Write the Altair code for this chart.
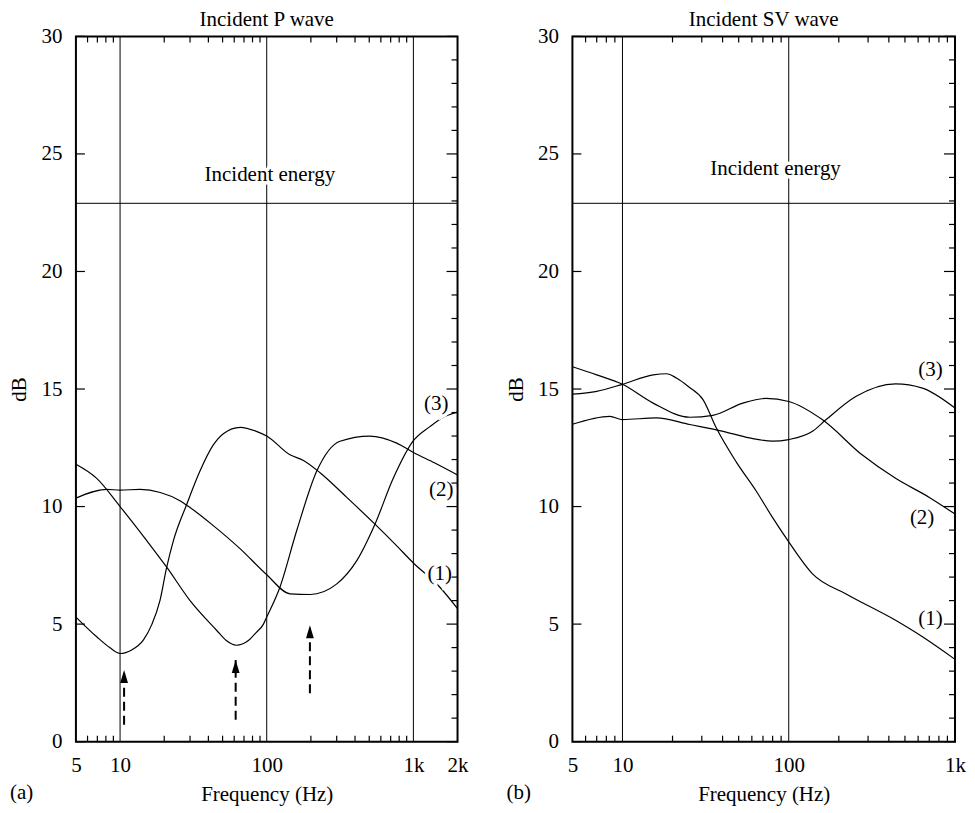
import altair as alt
import pandas as pd

FONT = "Liberation Serif"
FS = 21

# ---------------- Panel (a): Incident P wave ----------------
p1_f = [5, 6.93, 8.5, 10, 12, 14.4, 16.5, 18.7, 20.8, 23.1, 28.5, 35, 43, 50.6, 66, 85, 100, 144, 178, 231, 350, 547, 750, 1000, 1500, 2000]
p1_db = [5.3, 4.46, 4.0, 3.75, 3.9, 4.32, 5.0, 6.0, 7.42, 8.55, 10.1, 11.5, 12.6, 13.1, 13.37, 13.2, 13.0, 12.2, 11.96, 11.44, 10.4, 9.25, 8.4, 7.6, 6.6, 5.66]

p2_f = [5, 6.93, 10, 15.2, 20.8, 30, 45.5, 53, 62, 75, 85, 95, 100, 123, 160, 219, 316, 504, 770, 1000, 1400, 2000]
p2_db = [11.8, 11.2, 10.0, 8.55, 7.42, 6.0, 4.74, 4.3, 4.1, 4.3, 4.65, 5.0, 5.3, 6.57, 8.97, 11.5, 12.78, 13.0, 12.7, 12.3, 11.85, 11.34]

p3_f = [5, 8.1, 10, 13.7, 18.8, 25.6, 30, 43, 66, 100, 144, 198, 299, 411, 547, 729, 1000, 1296, 1600, 2000]
p3_db = [10.36, 10.73, 10.7, 10.73, 10.6, 10.25, 9.96, 9.2, 8.2, 7.1, 6.29, 6.26, 6.7, 7.7, 9.25, 11.2, 12.8, 13.4, 13.8, 14.02]

p_labels = ["(1)", "(2)", "(3)", "Incident energy"]
p_label_f = [1510, 1550, 1432, 105]
p_label_db = [7.15, 10.7, 14.35, 24.1]

arrow_f = [10.65, 61.4, 197]
arrow_base = [0.72, 0.93, 2.06]
arrow_tip = [3.05, 3.47, 4.95]

# ---------------- Panel (b): Incident SV wave ----------------
s1_f = [5, 7, 10, 15.3, 18.4, 21.1, 25, 30.5, 36.7, 48.3, 63.7, 80, 100, 139, 220, 439, 637, 1000]
s1_db = [14.78, 14.9, 15.2, 15.6, 15.65, 15.47, 15.1, 14.55, 13.34, 11.9, 10.66, 9.53, 8.5, 7.14, 6.29, 5.16, 4.46, 3.5]

s2_f = [5, 7, 10, 15.3, 25.4, 35, 53, 73, 100, 159, 276, 439, 697, 1000]
s2_db = [15.95, 15.6, 15.2, 14.4, 13.8, 13.88, 14.4, 14.6, 14.47, 13.7, 12.2, 11.2, 10.4, 9.68]

s3_f = [5, 8.4, 10, 16, 25.4, 40.3, 58, 80, 100, 139, 168, 253, 439, 637, 1000]
s3_db = [13.5, 13.84, 13.7, 13.77, 13.49, 13.2, 12.92, 12.78, 12.85, 13.2, 13.7, 14.68, 15.22, 15.04, 14.19]

s_labels = ["(1)", "(2)", "(3)", "Incident energy"]
s_label_f = [711, 634, 711, 83.3]
s_label_db = [5.2, 9.53, 15.8, 24.35]

incident_energy = 22.9
decade_lines = [10, 100, 1000]
y_major = [0, 5, 10, 15, 20, 25, 30]
y_minor = [v for v in range(0, 31) if v % 5 != 0]
x_minor = [6, 7, 8, 9, 20, 30, 40, 50, 60, 70, 80, 90, 200, 300, 400, 500, 600, 700, 800, 900]


def panel(curves, lab_t, lab_f, lab_db, xmax, xlabels, title, letter, W, H, arrows=None):
    xs = alt.Scale(type="log", domain=[5, xmax], nice=False)
    ys = alt.Scale(domain=[0, 30], nice=False)
    xax = alt.Axis(
        values=xlabels, ticks=False, domain=False, grid=False, labelFlush=False,
        labelExpr="datum.value >= 1000 ? format(datum.value/1000, 'd') + 'k' : format(datum.value, 'd')",
        labelPadding=13, title="Frequency (Hz)", titlePadding=8)
    yax = alt.Axis(values=y_major, ticks=False, domain=False, grid=False,
                   labelPadding=14, title="dB", titlePadding=11)

    def X(field="f"):
        return alt.X(f"{field}:Q", scale=xs, axis=xax)

    def Y(field="db"):
        return alt.Y(f"{field}:Q", scale=ys, axis=yax)

    rows = []
    for name, fl, dl in curves:
        for f, d in zip(fl, dl):
            rows.append({"curve": name, "f": f, "db": d})
    cdf = pd.DataFrame(rows)

    lines = alt.Chart(cdf).mark_line(color="black", strokeWidth=1.2, interpolate="monotone").encode(
        x=X(), y=Y(), detail="curve:N")

    vl = alt.Chart(pd.DataFrame({"f": [v for v in decade_lines if v < xmax]})).mark_rule(
        color="black", strokeWidth=1).encode(x=X())
    hl = alt.Chart(pd.DataFrame({"db": [incident_energy]})).mark_rule(
        color="black", strokeWidth=1).encode(y=Y())

    ldf = pd.DataFrame({"t": lab_t, "f": lab_f, "db": lab_db})
    halo = alt.Chart(ldf).mark_text(font=FONT, fontSize=FS, stroke="white", strokeWidth=7, color="white").encode(
        x=X(), y=Y(), text="t:N")
    txt = alt.Chart(ldf).mark_text(font=FONT, fontSize=FS, color="black").encode(
        x=X(), y=Y(), text="t:N")

    ymaj = pd.DataFrame({"db": y_major})
    ymin = pd.DataFrame({"db": y_minor})
    xmin = pd.DataFrame({"f": [v for v in x_minor if v < xmax]})
    right_major = alt.Chart(ymaj).mark_rule(color="black", strokeWidth=1.2).encode(
        y=Y(), x=alt.value(W), x2=alt.value(W - 11))
    right_minor = alt.Chart(ymin).mark_rule(color="black", strokeWidth=1.2).encode(
        y=Y(), x=alt.value(W), x2=alt.value(W - 6))
    left_major = alt.Chart(ymaj).mark_rule(color="black", strokeWidth=1.2).encode(
        y=Y(), x=alt.value(0), x2=alt.value(9))
    top_minor = alt.Chart(xmin).mark_rule(color="black", strokeWidth=1.2).encode(
        x=X(), y=alt.value(0), y2=alt.value(6))
    bot_minor = alt.Chart(xmin).mark_rule(color="black", strokeWidth=1.2).encode(
        x=X(), y=alt.value(H), y2=alt.value(H - 6))

    letter_mark = alt.Chart(pd.DataFrame({"t": [letter]})).mark_text(
        font=FONT, fontSize=FS, align="left", baseline="middle", color="black").encode(
        x=alt.value(-66), y=alt.value(H + 51), text="t:N")

    layers = [vl, hl, lines, halo, txt, right_major, right_minor, left_major, top_minor, bot_minor, letter_mark]

    if arrows is not None:
        af, ab, at = arrows
        adf = pd.DataFrame({"f": af, "db": ab, "db2": at})
        shaft = alt.Chart(adf).mark_rule(color="black", strokeWidth=2, strokeDash=[9, 5]).encode(
            x=X(), y=Y(), y2="db2:Q")
        head = alt.Chart(adf).mark_point(
            shape="M-0.6,1L0,-1L0.6,1Z", filled=True, color="black", opacity=1, size=170, yOffset=6.5
        ).encode(x=X(), y=Y("db2"))
        layers += [shaft, head]

    return alt.layer(*layers).properties(
        width=W, height=H,
        title=alt.TitleParams(title, font=FONT, fontSize=FS, fontWeight="normal", offset=-5, color="black"),
    )


left = panel(
    [("1", p1_f, p1_db), ("2", p2_f, p2_db), ("3", p3_f, p3_db)],
    p_labels, p_label_f, p_label_db, 2000, [5, 10, 100, 1000, 2000],
    "Incident P wave", "(a)", 382, 706, arrows=(arrow_f, arrow_base, arrow_tip))

right = panel(
    [("1", s1_f, s1_db), ("2", s2_f, s2_db), ("3", s3_f, s3_db)],
    s_labels, s_label_f, s_label_db, 1000, [5, 10, 100, 1000],
    "Incident SV wave", "(b)", 383, 706)

chart = alt.hconcat(left, right, spacing=35).properties(padding=0).configure_view(
    stroke="black", strokeWidth=2
).configure_axis(
    labelFont=FONT, labelFontSize=FS, titleFont=FONT, titleFontSize=FS,
    titleFontWeight="normal", labelColor="black", titleColor="black"
)

chart.save("out.html", embed_options={"renderer": "svg", "actions": False})
